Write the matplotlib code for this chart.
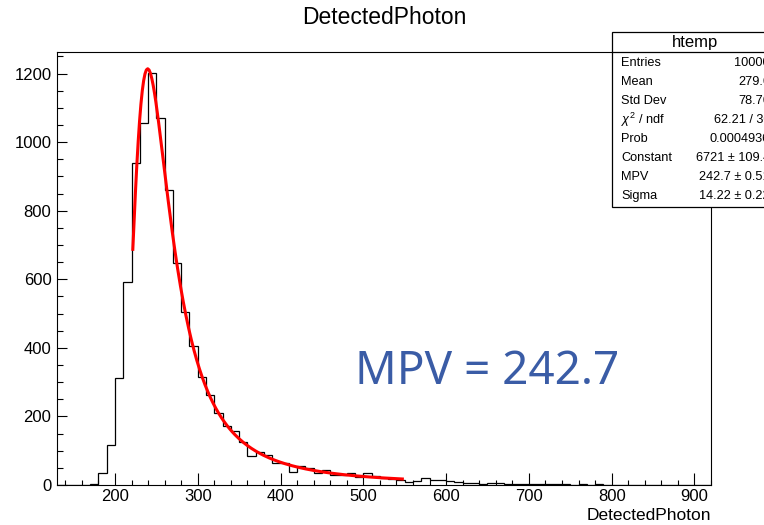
import numpy as np
import matplotlib
matplotlib.use("Agg")
import matplotlib.pyplot as plt
from matplotlib.patches import Rectangle
from matplotlib.lines import Line2D
from matplotlib.ticker import MultipleLocator

plt.rcParams['font.family'] = ['Liberation Sans', 'DejaVu Sans']
plt.rcParams['mathtext.fontset'] = 'custom'
plt.rcParams['mathtext.rm'] = 'Liberation Sans'
plt.rcParams['mathtext.it'] = 'Liberation Sans:italic'

# ---------------- data ----------------
title = "DetectedPhoton"
x_label = "DetectedPhoton"
bin_low = 130
bin_width = 10
counts = [0, 0, 0, 0, 3, 35, 117, 311, 591, 939, 1056, 1202, 1071, 861, 647,
          506, 406, 314, 263, 211, 172, 157, 126, 85, 97, 88, 63, 63, 39, 55,
          49, 34, 44, 29, 29, 36, 22, 34, 26, 19, 17, 15, 10, 13, 19, 15, 15,
          13, 10, 5, 6, 4, 7, 5, 3, 4, 2, 3, 4, 2, 3, 2, 1, 2, 1, 2, 1, 1, 0,
          1, 0, 1, 0, 1, 0, 0, 1, 0, 0]
x_ticks = [200, 300, 400, 500, 600, 700, 800, 900]
y_ticks = [0, 200, 400, 600, 800, 1000, 1200]

# Landau fit parameters (from stats box)
fit_constant = 6721
fit_mpv = 242.7
fit_sigma = 14.22
fit_range = (221.5, 549)

stats_title = "htemp"
stats_labels = ["Entries", "Mean", "Std Dev", r"$\chi^2$ / ndf", "Prob",
                "Constant", "MPV", "Sigma"]
stats_values = ["10000", "279.6", "78.76", "62.21 / 30", "0.0004936",
                "6721 ± 109.4", "242.7 ± 0.51", "14.22 ± 0.22"]
annotation = "MPV = 242.7"

# ---------------- helpers ----------------
def landau_pdf(lam):
    t = np.linspace(1e-9, 40, 40001)
    out = []
    for l in np.atleast_1d(lam):
        f = np.exp(-t * np.log(t) - l * t) * np.sin(np.pi * t)
        out.append(np.trapezoid(f, t) / np.pi)
    return np.array(out)

W, H = 764, 525
def fx(x): return x / W
def fy(y): return 1 - y / H

fig = plt.figure(figsize=(7.64, 5.25), dpi=100)
ax = fig.add_axes([fx(57), fy(485), fx(711) - fx(57), fy(52) - fy(485)])

edges = bin_low + bin_width * np.arange(len(counts) + 1)
ax.stairs(counts, edges, color='black', lw=0.9, baseline=0)

xf = np.linspace(fit_range[0], fit_range[1], 200)
yf = fit_constant * landau_pdf((xf - fit_mpv) / fit_sigma)
ax.plot(xf, yf, color='#ff0000', lw=2.2, solid_capstyle='butt')

ax.set_xlim(130, 920)
ax.set_ylim(0, 1263)
ax.set_xticks(x_ticks)
ax.set_yticks(y_ticks)
ax.xaxis.set_minor_locator(MultipleLocator(20))
ax.yaxis.set_minor_locator(MultipleLocator(50))
ax.tick_params(axis='x', which='major', direction='in', length=8.6, width=0.8,
               labelsize=12, pad=3, top=False)
ax.tick_params(axis='x', which='minor', direction='in', length=3.8, width=0.8, top=False)
ax.tick_params(axis='y', which='major', direction='in', length=7.2, width=0.8,
               labelsize=12, pad=4, right=False)
ax.tick_params(axis='y', which='minor', direction='in', length=4.2, width=0.8, right=False)
for s in ax.spines.values():
    s.set_linewidth(0.8)

fig.text(fx(711), fy(515), x_label, ha='right', va='center', fontsize=12.5)
fig.text(fx(384), fy(18), title, ha='center', va='center', fontsize=16.5)

ax.text(fx(355), fy(372), annotation, transform=fig.transFigure,
        ha='left', va='center', fontsize=33, color='#3a5ca6',
        family=['Noto Sans', 'DejaVu Sans'])

# ---------------- stats box ----------------
bx0, bx1, by0, by1 = 612, 778, 32, 207
fig.add_artist(Rectangle((fx(bx0), fy(by1)), fx(bx1) - fx(bx0), fy(by0) - fy(by1),
                         transform=fig.transFigure, facecolor='white',
                         edgecolor='black', lw=0.9, zorder=5))
fig.add_artist(Line2D([fx(bx0), fx(bx1)], [fy(52), fy(52)],
                      transform=fig.transFigure, color='black', lw=0.9, zorder=6))
fig.text(fx(695), fy(42), stats_title, ha='center', va='center', fontsize=12, zorder=7)
row0, dy = 63.3, 19.0
for i, (lab, val) in enumerate(zip(stats_labels, stats_values)):
    y = row0 + i * dy
    fig.text(fx(621), fy(y), lab, ha='left', va='center', fontsize=9.2, zorder=7)
    fig.text(fx(770), fy(y), val, ha='right', va='center', fontsize=9.2, zorder=7)

fig.savefig("out.png", dpi=100)
